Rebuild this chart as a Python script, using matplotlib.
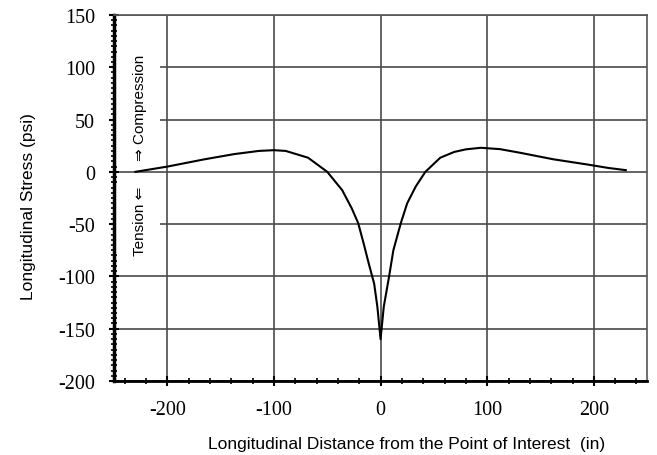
import matplotlib
matplotlib.use("Agg")
import matplotlib.pyplot as plt
from matplotlib.patches import Rectangle
from matplotlib.ticker import MultipleLocator

plt.rcParams['axes.unicode_minus'] = False

# longitudinal distance (in) and stress (psi)
dist = [-230, -200, -165, -137, -114, -100, -89, -68, -50, -36, -27, -21, -16, -11,
        -6, -3, 0, 3, 8, 12, 19, 25, 33, 42, 56, 69, 80, 94, 112, 131, 162, 194, 213, 230]
stress = [0, 5, 12, 17, 20, 20.7, 20, 13.5, 0, -17.5, -35, -49, -68, -88,
          -107, -129, -160, -129, -100, -75, -49, -30, -14, 0, 13.5, 19, 21.5, 23, 21.7,
          18.2, 12, 7, 3.8, 1.6]

x_ticks = [-200, -100, 0, 100, 200]
y_ticks = [-200, -150, -100, -50, 0, 50, 100, 150]

fig = plt.figure(figsize=(6.57, 4.56), dpi=100)
ax = fig.add_axes([0.1735, 0.1623, 0.8115, 0.8027])

ax.plot(dist, stress, color='black', lw=1.5, zorder=3)

ax.set_xlim(-250, 250)
ax.set_ylim(-200, 150)
ax.set_xticks(x_ticks)
ax.set_yticks(y_ticks)
ax.xaxis.set_minor_locator(MultipleLocator(20))
ax.yaxis.set_minor_locator(MultipleLocator(5))

ax.grid(True, which='major', color='#4a4a4a', lw=1.2)
ax.tick_params(which='major', direction='inout', length=7, width=1.5, labelsize=14.5)
ax.tick_params(axis='x', which='major', pad=10)
ax.tick_params(axis='y', which='major', pad=10)
ax.tick_params(which='minor', direction='inout', length=4, width=1.2)
for lab in ax.get_xticklabels() + ax.get_yticklabels():
    lab.set_family('Liberation Serif')

ax.spines['left'].set_linewidth(2.5)
ax.spines['bottom'].set_linewidth(2.0)
for s in ['top', 'right']:
    ax.spines[s].set_linewidth(1.2)
    ax.spines[s].set_color('#555555')

sans = ['Liberation Sans', 'DejaVu Sans']
ax.set_xlabel('Longitudinal Distance from the Point of Interest  (in)', family=sans, fontsize=12.5)
ax.set_ylabel('Longitudinal Stress (psi)', family=sans, fontsize=12.5)
ax.xaxis.set_label_coords(0.548, -0.150)
ax.yaxis.set_label_coords(-0.146, 0.478)

# white patches behind the tension / compression note
ax.add_patch(Rectangle((-248, 9), 41, 105, facecolor='white', edgecolor='none', zorder=1.6))
ax.add_patch(Rectangle((-248, -76), 41, 64, facecolor='white', edgecolor='none', zorder=1.6))
ax.text(-226, 11, '\u21d2 Compression', rotation=90, ha='center', va='bottom',
        family=sans, fontsize=11, zorder=2)
ax.text(-226, -13, 'Tension \u21d0', rotation=90, ha='center', va='top',
        family=sans, fontsize=11, zorder=2)

plt.savefig('out.png', dpi=100)
